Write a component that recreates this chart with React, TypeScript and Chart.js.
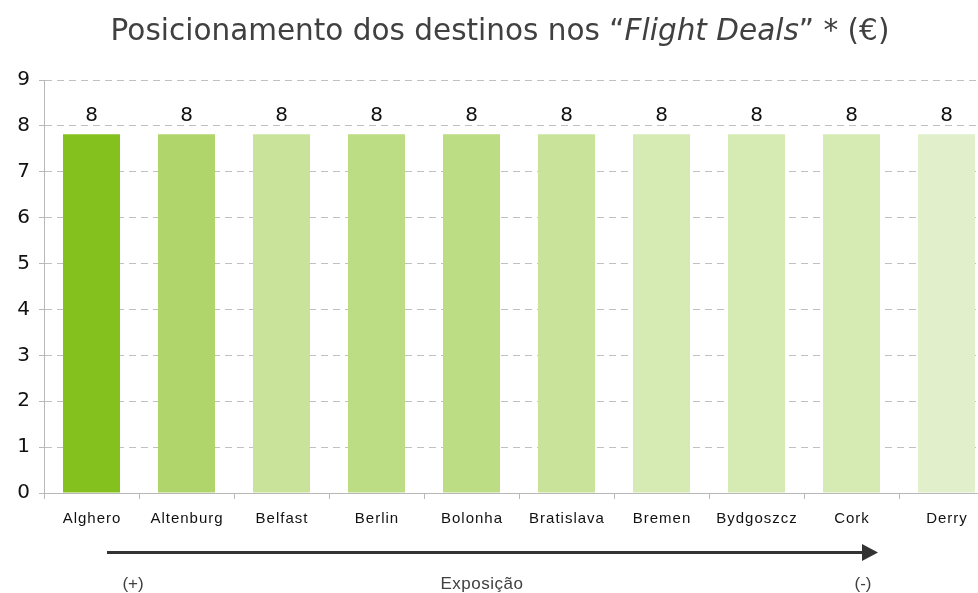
import React, { useEffect, useRef } from "react";
import { Chart, registerables } from "chart.js";

Chart.register(...registerables);

const categories = ["Alghero", "Altenburg", "Belfast", "Berlin", "Bolonha", "Bratislava", "Bremen", "Bydgoszcz", "Cork", "Derry"];
const values = [7.82, 7.82, 7.82, 7.82, 7.82, 7.82, 7.82, 7.82, 7.82, 7.82];
const valueLabels = ["8", "8", "8", "8", "8", "8", "8", "8", "8", "8"];
const yTicks = [0, 1, 2, 3, 4, 5, 6, 7, 8, 9];
const barColors = ["#84c11e", "#b0d66b", "#c9e39b", "#bddd84", "#bddd84", "#c9e39b", "#d6eab3", "#d6eab3", "#d6eab3", "#e1f0ca"];
const titleParts = [
  { text: "Posicionamento dos destinos nos \u201C", italic: false },
  { text: "Flight Deals", italic: true },
  { text: "\u201D * (\u20AC)", italic: false },
];
const axisNote = { left: "(+)", middle: "Exposição", right: "(-)" };

const SANS = "'DejaVu Sans', Verdana, sans-serif";
const ARIAL = "'Liberation Sans', Arial, sans-serif";

const overlay = {
  id: "overlay",
  afterDraw(chart: any) {
    const ctx = chart.ctx as CanvasRenderingContext2D;
    const x = chart.scales.x;
    const y = chart.scales.y;
    const W = chart.width;

    // Title
    ctx.save();
    ctx.fillStyle = "#404040";
    ctx.textBaseline = "alphabetic";
    ctx.textAlign = "left";
    const fonts = titleParts.map((p) => (p.italic ? "italic " : "") + "29.5px " + SANS);
    let total = 0;
    const widths = titleParts.map((p, i) => {
      ctx.font = fonts[i];
      const w = ctx.measureText(p.text).width;
      total += w;
      return w;
    });
    let tx = W / 2 - total / 2;
    titleParts.forEach((p, i) => {
      ctx.font = fonts[i];
      ctx.fillText(p.text, tx, 40);
      tx += widths[i];
    });
    ctx.restore();

    // Value labels
    const meta = chart.getDatasetMeta(0);
    ctx.save();
    ctx.font = "20px " + SANS;
    ctx.fillStyle = "#111";
    ctx.textAlign = "center";
    ctx.textBaseline = "alphabetic";
    meta.data.forEach((bar: any, i: number) => {
      ctx.fillText(valueLabels[i], bar.x, bar.y - 13);
    });
    ctx.restore();

    // Category labels (letter-spaced)
    ctx.save();
    ctx.font = "15px " + ARIAL;
    ctx.fillStyle = "#111";
    ctx.textAlign = "left";
    ctx.textBaseline = "alphabetic";
    const sp = 1;
    (ctx as any).letterSpacing = sp + "px";
    categories.forEach((c, i) => {
      const cx = x.getPixelForValue(i);
      const w = ctx.measureText(c).width;
      ctx.fillText(c, cx - (w - sp) / 2, y.bottom + 29.5);
    });
    ctx.restore();

    // Arrow
    ctx.save();
    ctx.strokeStyle = "#333";
    ctx.fillStyle = "#333";
    ctx.lineWidth = 3;
    ctx.beginPath();
    ctx.moveTo(107, 552.5);
    ctx.lineTo(864, 552.5);
    ctx.stroke();
    ctx.beginPath();
    ctx.moveTo(862, 544);
    ctx.lineTo(878, 552.5);
    ctx.lineTo(862, 561);
    ctx.closePath();
    ctx.fill();
    ctx.restore();

    // Notes
    ctx.save();
    ctx.font = "17px " + ARIAL;
    ctx.fillStyle = "#404040";
    ctx.textAlign = "center";
    ctx.textBaseline = "alphabetic";
    ctx.fillText(axisNote.left, 133, 589);
    (ctx as any).letterSpacing = "0.5px";
    ctx.fillText(axisNote.middle, 482, 589);
    (ctx as any).letterSpacing = "0px";
    ctx.fillText(axisNote.right, 863, 589);
    ctx.restore();
  },
};

export default function App() {
  const ref = useRef<HTMLCanvasElement | null>(null);
  useEffect(() => {
    if (!ref.current) return;
    const chart = new Chart(ref.current, {
      type: "bar",
      data: {
        labels: categories,
        datasets: [
          {
            data: values,
            backgroundColor: barColors,
            borderWidth: 0,
            categoryPercentage: 1,
            barPercentage: 0.6,
          },
        ],
      },
      options: {
        responsive: false,
        animation: false,
        devicePixelRatio: 1,
        layout: { padding: { top: 80, right: 6, left: 0, bottom: 0 } },
        plugins: { legend: { display: false }, title: { display: false }, tooltip: { enabled: false } },
        scales: {
          x: {
            offset: true,
            grid: { display: true, drawOnChartArea: false, drawTicks: true, tickLength: 6, color: "#b8b8b8", offset: true },
            border: { display: true, color: "#b8b8b8", width: 1 },
            ticks: { display: false },
            afterFit: (s: any) => {
              s.height = 100;
            },
          },
          y: {
            min: 0,
            max: 9,
            afterBuildTicks: (s: any) => {
              s.ticks = yTicks.map((v) => ({ value: v }));
            },
            grid: {
              color: "#c0c0c0",
              tickLength: 5,
              tickColor: "#b8b8b8",
              borderDash: [7, 5],
            } as any,
            border: { display: true, color: "#b8b8b8", width: 1, dash: [7, 5] },
            ticks: {
              font: { family: SANS, size: 20 },
              color: "#111",
              padding: 9,
              callback: (v: any) => String(v),
            },
            afterFit: (s: any) => {
              s.width = 44;
            },
          },
        },
      },
      plugins: [overlay],
    });
    return () => chart.destroy();
  }, []);
  return (
    <div style={{ position: "absolute", left: 0, top: 0, width: 978, height: 593, overflow: "hidden", background: "#fff" }}>
      <canvas ref={ref} width={1000} height={593} style={{ display: "block" }} />
    </div>
  );
}
